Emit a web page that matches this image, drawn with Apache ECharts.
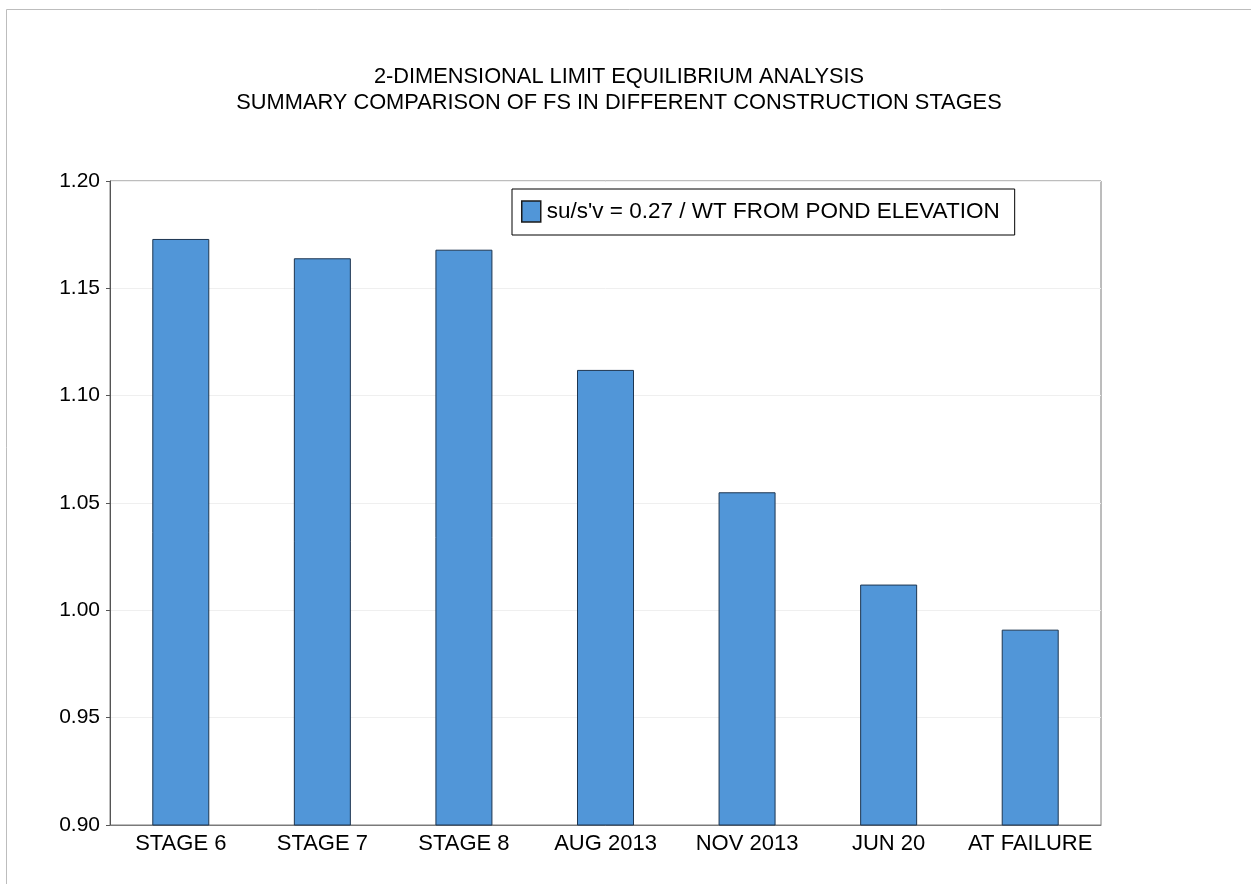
<!DOCTYPE html>
<html>
<head>
<meta charset="utf-8">
<title>FS comparison</title>
<script src="https://cdn.jsdelivr.net/npm/echarts@6/dist/echarts.min.js"></script>
<style>
  html, body { margin: 0; padding: 0; background: #fff; }
  #chart { width: 1251px; height: 884px; }
</style>
</head>
<body>
<div id="chart"></div>
<script>
// Construction stages and computed factor of safety
const stages = ['STAGE 6', 'STAGE 7', 'STAGE 8', 'AUG 2013', 'NOV 2013', 'JUN 20', 'AT FAILURE'];
const fsValues = [1.173, 1.164, 1.168, 1.112, 1.055, 1.012, 0.991];
const seriesName = "su/s'v = 0.27 / WT FROM POND ELEVATION";
const titleLines = [
  '2-DIMENSIONAL LIMIT EQUILIBRIUM ANALYSIS',
  'SUMMARY COMPARISON OF FS IN DIFFERENT CONSTRUCTION STAGES'
];

const FONT = '"Liberation Sans", Arial, sans-serif';
const chart = echarts.init(document.getElementById('chart'), null, { renderer: 'canvas' });

chart.setOption({
  backgroundColor: '#fff',
  animation: false,
  graphic: [{
    type: 'rect',
    shape: { x: 6.5, y: 9.5, width: 1260, height: 900 },
    style: { fill: 'none', stroke: '#bdbdbd', lineWidth: 1 },
    silent: true
  }],
  title: {
    text: titleLines.join('\n'),
    left: 614,
    textAlign: 'center',
    top: 59,
    textStyle: {
      fontFamily: FONT, fontSize: 21.8, fontWeight: 'normal',
      color: '#000', lineHeight: 26
    }
  },
  legend: {
    data: [seriesName],
    left: 512,
    top: 189,
    padding: [11, 15, 12, 9],
    borderColor: '#000',
    borderWidth: 1,
    backgroundColor: '#fff',
    itemWidth: 19,
    itemHeight: 21,
    itemGap: 6,
    icon: 'rect',
    itemStyle: { color: '#5196d8', borderColor: '#1a1a1a', borderWidth: 1.5 },
    textStyle: { fontFamily: FONT, fontSize: 22.5, color: '#000', padding: [0, 0, 0, 1] }
  },
  grid: {
    left: 110, right: 150, top: 181, bottom: 59,
    show: true, borderColor: '#7a7a7a', borderWidth: 1,
    containLabel: false
  },
  xAxis: {
    type: 'category',
    data: stages,
    axisLine: { lineStyle: { color: '#7a7a7a', width: 1 } },
    axisTick: { show: false },
    axisLabel: { fontFamily: FONT, fontSize: 22, color: '#000', margin: 8, interval: 0 },
    splitLine: { show: false }
  },
  yAxis: {
    type: 'value',
    min: 0.9,
    max: 1.2,
    interval: 0.05,
    axisLine: { show: true, lineStyle: { color: '#555', width: 1 } },
    axisTick: { show: true, length: 4, lineStyle: { color: '#555' } },
    axisLabel: {
      fontFamily: FONT, fontSize: 21, color: '#000', margin: 10,
      formatter: v => v.toFixed(2)
    },
    splitLine: { show: true, lineStyle: { color: '#efefef', width: 1 } }
  },
  series: [{
    name: seriesName,
    type: 'bar',
    data: fsValues,
    barWidth: 57,
    itemStyle: {
      color: '#5196d8',
      borderColor: '#1d3550',
      borderWidth: 1
    }
  }]
});
</script>
</body>
</html>
